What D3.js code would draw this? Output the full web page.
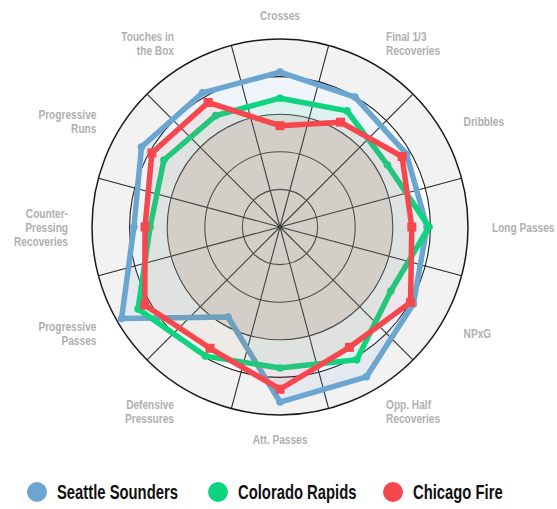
<!DOCTYPE html>
<html><head><meta charset="utf-8">
<script src="https://cdn.jsdelivr.net/npm/d3@7"></script>
<style>
html,body{margin:0;padding:0;background:#fff;}
svg{display:block;}
</style></head>
<body>
<svg id="chart" width="557" height="509"></svg>
<script>
const categories = ["Crosses","Final 1/3\nRecoveries","Dribbles","Long Passes","NPxG","Opp. Half\nRecoveries","Att. Passes","Defensive\nPressures","Progressive\nPasses","Counter-\nPressing\nRecoveries","Progressive\nRuns","Touches in\nthe Box"];
const seriesNames = ["Seattle Sounders","Colorado Rapids","Chicago Fire"];
const seattle = [82.4,79.8,77.7,78.2,81.9,92.0,93.1,55.3,97.3,77.7,85.1,82.4];
const colorado = [68.5,71.3,66.0,79.3,68.1,81.6,75.0,79.3,87.2,69.1,71.3,68.4];
const chicago = [53.9,64.4,75.0,70.1,80.2,73.9,86.3,74.5,83.0,71.8,78.7,76.5];
const ringTicks = [20,40,60,80,100];
const colors = ["#6aa6cf","#0fd47f","#f5474d"];

const svg = d3.select("#chart");
const cx = 280, cy = 227, R = 188;
const r = d3.scaleLinear().domain([0,100]).range([0,R]);
const n = categories.length;
const ang = d3.scaleLinear().domain([0,n]).range([0,2*Math.PI]);
const g = svg.append("g").attr("transform",`translate(${cx},${cy})`);
const FONT = "'Liberation Sans', Arial, sans-serif";

// outer band
const arcBand = d3.arc().innerRadius(r(80)).outerRadius(r(100)).startAngle(0).endAngle(2*Math.PI);
g.append("path").attr("d",arcBand()).attr("fill","#f2f2f2");
// gray disk
g.append("circle").attr("r",r(60)).attr("fill","#f0e5df");

// spokes (sector boundaries)
d3.range(n).forEach(i=>{
  const a = ang(i+0.5);
  g.append("line").attr("x1",0).attr("y1",0)
   .attr("x2",R*Math.sin(a)).attr("y2",-R*Math.cos(a))
   .attr("stroke","#2a2a2a").attr("stroke-width",1.1);
});
// rings
ringTicks.forEach(t=>{
  g.append("circle").attr("r",r(t)).attr("fill","none")
   .attr("stroke", t>=80 ? "#1a1a1a" : "#3a3a3a")
   .attr("stroke-width", t===100 ? 1.5 : 1.1);
});

const fillOp = [0.11,0.08,0.09];
const all = [seattle,colorado,chicago];
const line = d3.lineRadial().angle((d,i)=>ang(i)).radius(d=>r(d)).curve(d3.curveLinearClosed);
all.forEach((vals,k)=>{
  const sg = g.append("g");
  sg.append("path").attr("d",line(vals)).attr("fill",colors[k]).attr("fill-opacity",fillOp[k]);
  sg.append("path").attr("d",line(vals)).attr("fill","none")
    .attr("stroke",colors[k]).attr("stroke-width",5.5).attr("stroke-linejoin","round");
  vals.forEach((v,i)=>{
    const a = ang(i), x = r(v)*Math.sin(a), y = -r(v)*Math.cos(a);
    if(k===2){
      sg.append("rect").attr("x",x-4.5).attr("y",y-4.5).attr("width",9).attr("height",9).attr("fill",colors[k]);
    } else {
      sg.append("circle").attr("cx",x).attr("cy",y).attr("r",3.8).attr("fill",colors[k]);
    }
  });
});

// labels (condensed via horizontal scale around the anchor)
const labR = 212, lh = 14, sx = 0.78;
categories.forEach((c,i)=>{
  const a = ang(i);
  const x = labR*Math.sin(a), y = -labR*Math.cos(a);
  const deg = i*360/n;
  const anchor = (deg===0||deg===180) ? "middle" : (deg<180 ? "start":"end");
  const lines = c.split("\n");
  const t = g.append("text").attr("transform",`translate(${x},${y}) scale(${sx},1)`)
    .attr("text-anchor",anchor)
    .attr("font-family",FONT)
    .attr("font-weight","bold").attr("font-size",13).attr("fill","#b0b0b0");
  lines.forEach((l,j)=>{
    t.append("tspan").attr("x",0).attr("y", (j-(lines.length-1)/2)*lh)
     .attr("dominant-baseline","central").text(l);
  });
});

// legend
const legX = [37,218,393], legY = 492;
seriesNames.forEach((s,k)=>{
  svg.append("circle").attr("cx",legX[k]).attr("cy",legY).attr("r",10).attr("fill",colors[k]);
  svg.append("text").attr("transform",`translate(${legX[k]+20},${legY}) scale(0.76,1)`)
    .attr("dominant-baseline","central")
    .attr("font-family",FONT).attr("font-weight","bold")
    .attr("font-size",19.5).attr("fill","#111").text(s);
});
</script>
</body></html>
